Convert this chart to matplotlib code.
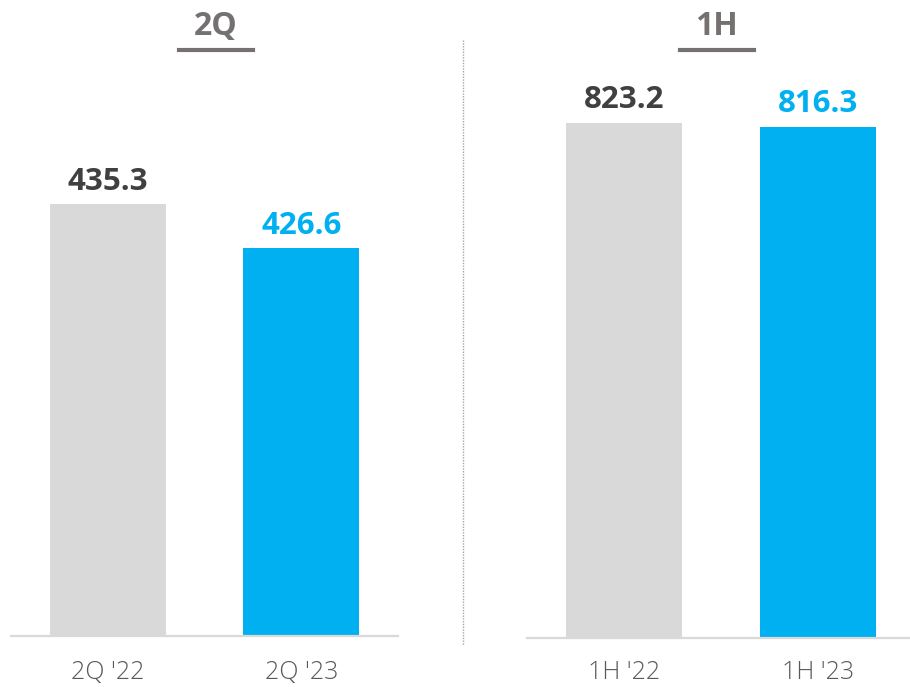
import matplotlib.pyplot as plt
from matplotlib.lines import Line2D

# quarter and half-year totals
q_labels = ["2Q '22", "2Q '23"]
q_values = [435.3, 426.6]
h_labels = ["1H '22", "1H '23"]
h_values = [823.2, 816.3]

GREY = '#D9D9D9'
BLUE = '#00B0F0'
LABEL_COLORS = ['#404040', BLUE]

W, H = 910, 687
plt.rcParams['font.family'] = ['Open Sans', 'DejaVu Sans']

fig = plt.figure(figsize=(W / 100, H / 100), dpi=100)


def px_axes(x0, x1, y_top, y_base):
    # axes box given in pixel coords measured from the top-left corner
    return fig.add_axes((x0 / W, (H - y_base) / H, (x1 - x0) / W, (y_base - y_top) / H))


def panel(ax, labels, values, ylim, pad):
    ax.bar(range(len(values)), values, width=0.6, color=[GREY, BLUE], zorder=2)
    ax.set_xlim(-0.5, 1.5)
    ax.set_ylim(*ylim)
    for s in ['top', 'left', 'right']:
        ax.spines[s].set_visible(False)
    ax.spines['bottom'].set_color(GREY)
    ax.spines['bottom'].set_linewidth(1.6)
    ax.spines['bottom'].set_zorder(3)
    ax.set_yticks([])
    ax.set_xticks(range(len(labels)), labels)
    ax.tick_params(axis='x', length=0, pad=pad, labelsize=18, labelcolor='#595959')
    for t in ax.get_xticklabels():
        t.set_fontweight(300)
    for i, v in enumerate(values):
        ax.annotate(f'{v:.1f}', (i, v), xytext=(0, 5.5), textcoords='offset points',
                    ha='center', va='bottom', fontsize=22.5, fontweight='bold',
                    color=LABEL_COLORS[i])


ax1 = px_axes(11, 398, 40, 635.5)
panel(ax1, q_labels, q_values, (350, 467.8), 17.5)

ax2 = px_axes(527, 915, 40, 638)
panel(ax2, h_labels, h_values, (0, 955), 16)

# section headers with underline
for text, cx in [('2Q', 216), ('1H', 716.5)]:
    fig.text(cx / W, (H - 35) / H, text, ha='center', va='baseline',
             fontsize=23, fontweight='bold', color='#767171')
    fig.add_artist(Line2D([(cx - 37) / W, (cx + 37) / W], [(H - 50) / H] * 2,
                          color='#767171', lw=3))

# dotted divider between the two panels
fig.add_artist(Line2D([463 / W] * 2, [(H - 40) / H, (H - 645) / H],
                      color='#A6A6A6', lw=1, linestyle=(0, (1, 1))))

fig.savefig('out.png', dpi=100)
